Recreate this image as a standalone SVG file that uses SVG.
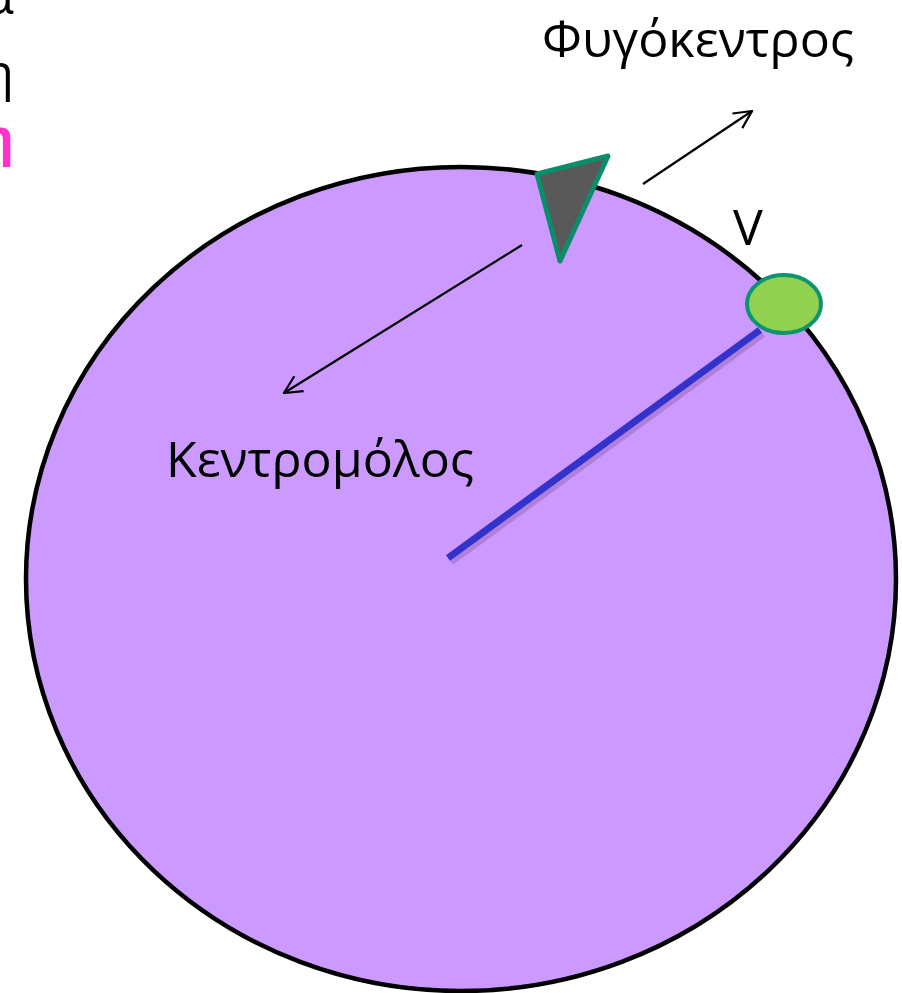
<svg xmlns="http://www.w3.org/2000/svg" width="902" height="993" viewBox="0 0 902 993">
<style>
.t{font-family:"Open Sans","Noto Sans","Liberation Sans",sans-serif;font-size:50px;fill:#000}
.arrow{stroke:#000;stroke-width:2.2;fill:none;marker-end:url(#ah)}
</style>
<defs>
<marker id="ah" viewBox="0 0 20 20" refX="19" refY="10" markerWidth="22" markerHeight="22" markerUnits="userSpaceOnUse" orient="auto">
<path d="M3,2 L19,10 L3,18" fill="none" stroke="#000" stroke-width="2"/>
</marker>
</defs>
<rect width="902" height="993" fill="#fff"/>
<g id="left-text">
<text class="t" x="14" y="14" text-anchor="end">α</text>
<text class="t" x="14" y="90" text-anchor="end">η</text>
<text class="t" x="14" y="155" text-anchor="end" style="fill:#ff33cc;font-weight:bold">η</text>
</g>
<g id="disc">
<ellipse cx="461" cy="579" rx="435" ry="412" fill="#cc99ff" stroke="#000" stroke-width="4.5"/>
</g>
<g id="radius">
<line x1="451" y1="562" x2="763" y2="334" stroke="#b080d8" stroke-width="7"/>
<line x1="448" y1="558" x2="760" y2="330" stroke="#3333cc" stroke-width="7"/>
</g>
<g id="object">
<polygon points="537,174 608,156 560,261" fill="#595959" stroke="#0b8c6a" stroke-width="5" stroke-linejoin="round"/>
</g>
<g id="point-v">
<ellipse cx="784" cy="304" rx="37" ry="29" fill="#92d050" stroke="#0b9470" stroke-width="4"/>
</g>
<g id="connectors">
<line class="arrow" x1="643" y1="184" x2="752" y2="111"/>
<line class="arrow" x1="522" y1="245" x2="284" y2="393"/>
</g>
<g id="labels">
<text class="t" x="542" y="57" textLength="312" lengthAdjust="spacingAndGlyphs">Φυγόκεντρος</text>
<text class="t" x="166" y="477" textLength="308" lengthAdjust="spacingAndGlyphs">Κεντρομόλος</text>
<text class="t" x="733" y="245">V</text>
</g>
</svg>
